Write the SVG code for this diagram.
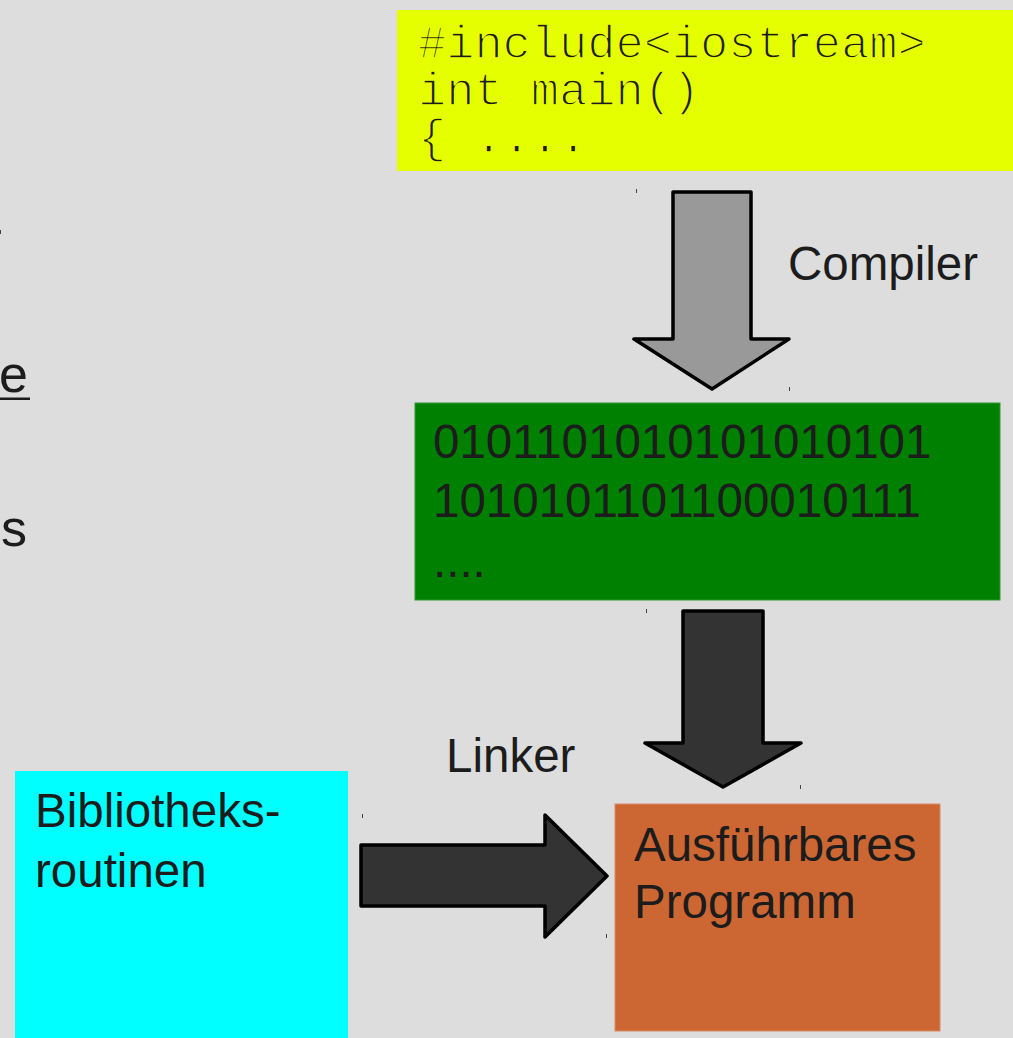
<svg xmlns="http://www.w3.org/2000/svg" width="1013" height="1038" viewBox="0 0 1013 1038">
<style>
.t{font-family:"Liberation Sans",Arial,sans-serif;font-size:47.5px;fill:#1c1c1c}
.m{font-family:"Liberation Mono","Courier New",monospace;font-size:47px;fill:#1c1c1c;stroke:#e6ff00;stroke-width:1.6px}
.arr{stroke:#000;stroke-width:3.5;stroke-linejoin:round}
.tick{fill:#444}
</style>
<rect x="0" y="0" width="1013" height="1038" fill="#dddddd"/>
<g id="left-fragments">
<text class="t" x="-1" y="392" style="font-size:52px">e</text>
<rect x="0" y="397.5" width="30" height="2.5" fill="#1c1c1c"/>
<text class="t" x="1" y="546" style="font-size:52px">s</text>
</g>
<g id="source">
<rect x="397" y="10" width="616" height="161" fill="#e6ff00"/>
<text class="m" x="418" y="58">#include&lt;iostream&gt;</text>
<text class="m" x="418" y="105">int main()</text>
<text class="m" x="418" y="152">{ ....</text>
</g>
<g id="object">
<rect x="415" y="403" width="585" height="197" fill="#008000" stroke="#2e9a2e" stroke-width="1"/>
<text class="t" x="433" y="458">0101101010101010101</text>
<text class="t" x="433" y="517">1010101101100010111</text>
<text class="t" x="433" y="577">....</text>
</g>
<g id="library">
<rect x="15" y="771" width="333" height="270" fill="#00ffff"/>
<text class="t" x="35" y="827">Bibliotheks-</text>
<text class="t" x="35" y="887">routinen</text>
</g>
<g id="program">
<rect x="615" y="804" width="325" height="227" fill="#cc6633" stroke="#d98c66" stroke-width="1"/>
<text class="t" x="634" y="861">Ausführbares</text>
<text class="t" x="634" y="918">Programm</text>
</g>
<g id="connectors">
<polygon class="arr" fill="#999999" points="673,192 751,192 751,339 789,339 712,389 634,339 673,339"/>
<polygon class="arr" fill="#333333" points="683,611 763,611 763,743 801,743 723,787 645,743 683,743"/>
<polygon class="arr" fill="#333333" points="361,845 545,845 545,815 607,876 545,937 545,906 361,906"/>
<text class="t" x="788" y="280">Compiler</text>
<text class="t" x="446" y="772">Linker</text>
</g>
<g id="ticks">
<rect class="tick" x="0" y="230" width="1" height="4"/>
<rect class="tick" x="636" y="189" width="1" height="4"/>
<rect class="tick" x="789" y="387" width="1" height="4"/>
<rect class="tick" x="646" y="609" width="1" height="4"/>
<rect class="tick" x="800" y="785" width="1" height="4"/>
<rect class="tick" x="362" y="814" width="1" height="4"/>
<rect class="tick" x="606" y="934" width="1" height="4"/>
</g>
</svg>
